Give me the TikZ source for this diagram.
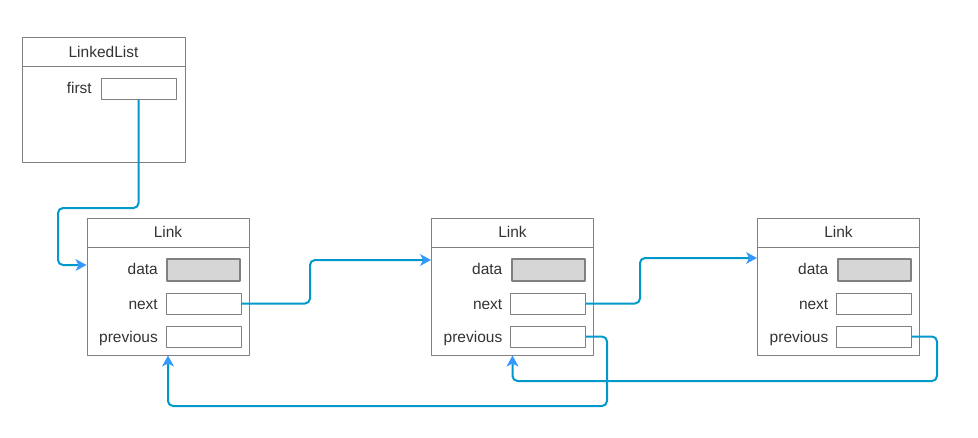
\documentclass[tikz,border=0pt]{standalone}
\usepackage{fontspec}
\setmainfont{Liberation Sans}
\usetikzlibrary{arrows.meta}
\definecolor{wireblue}{RGB}{0,153,204}
\definecolor{tipblue}{RGB}{51,153,255}
\definecolor{boxgray}{RGB}{128,128,128}
\definecolor{datagray}{RGB}{214,214,214}
\definecolor{txtgray}{RGB}{51,51,51}
\begin{document}
\begin{tikzpicture}[x=1pt,y=-1pt,font=\fontsize{15.5}{17}\selectfont,line join=round]
	\tikzset{frame/.style={draw=boxgray,line width=1pt,inner sep=0pt},
		field/.style={draw=boxgray,line width=1pt,inner sep=0pt,minimum width=75pt,minimum height=21pt,fill=white},
		datafield/.style={field,line width=2pt,minimum width=73pt,minimum height=22pt,fill=datagray},
		lbl/.style={text=txtgray,anchor=east,inner sep=0pt},
		wire/.style={draw=wireblue,line width=2pt,rounded corners=5pt,
			-{Stealth[length=11pt,width=12pt,inset=3pt,line width=0pt,tipblue]}}}
	\useasboundingbox (0,0) rectangle (978,437);
	% LinkedList
	\node[frame,minimum width=163pt,minimum height=125pt] (list) at (103.5,99.5) {};
	\draw[boxgray,line width=1pt] (22,66)--(185,66);
	\node[text=txtgray] (listtitle) at (103.5,52) {LinkedList};
	\node[lbl] (firstlbl) at (92,88) {first};
	\node[field] (first) at (138.5,88.5) {};
	% the three links
	\foreach \n/\cx in {1/168,2/512.5,3/838.5}{
		\node[frame,minimum width=162pt,minimum height=137pt] (link\n) at (\cx,286.5) {};
		\draw[boxgray,line width=1pt] (\cx-81,247)--(\cx+81,247);
		\node[text=txtgray] (title\n) at (\cx,232) {Link};
		\node[lbl] (datalbl\n) at (\cx-10,269) {data};
		\node[lbl] (nextlbl\n) at (\cx-10,305) {next};
		\node[lbl] (prevlbl\n) at (\cx-10,338) {previous};
		\node[datafield] (data\n) at (\cx+35.5,270) {};
		\node[field] (next\n) at (\cx+35.5,303.5) {};
		\node[field] (prev\n) at (\cx+35.5,336.5) {};
	}
	% connectors
	\draw[wire] (first.south) |- (58,208) |- ([yshift=21.5pt]link1.west);
	\draw[wire] (next1.east) -| (310,260) -- ([yshift=26.5pt]link2.west);
	\draw[wire] (next2.east) -| (640,258) -- ([yshift=28.5pt]link3.west);
	\draw[wire] (prev2.east) -| (607,406) -| (link1.south);
	\draw[wire] (prev3.east) -| (937,381) -| (link2.south);
\end{tikzpicture}
\end{document}
